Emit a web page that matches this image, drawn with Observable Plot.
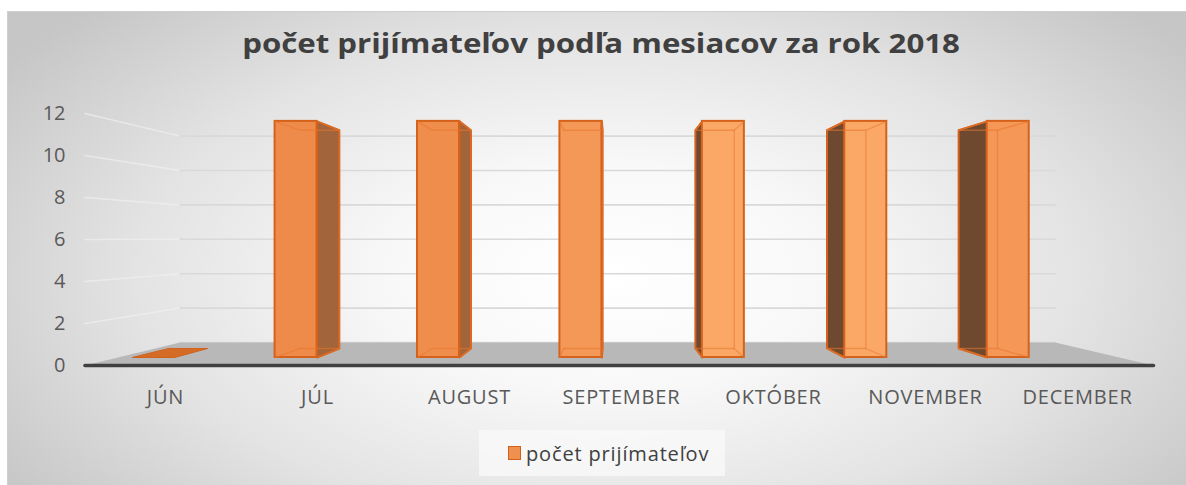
<!DOCTYPE html>
<html><head><meta charset="utf-8">
<script src="https://cdn.jsdelivr.net/npm/d3@7"></script>
<script src="https://cdn.jsdelivr.net/npm/@observablehq/plot@0.6"></script>
<style>
html,body{margin:0;padding:0;background:#fff;width:1186px;height:485px;overflow:hidden;}
#card{position:absolute;left:7px;top:11px;width:1179px;height:474px;box-sizing:border-box;
  border-top:1px solid #cfcfcf;border-left:1px solid #cfcfcf;
  background:radial-gradient(ellipse 62% 80% at 51% 56%, #ffffff 0%, #f8f8f8 30%, #e3e3e3 65%, #c6c6c6 100%);
  font-family:"Open Sans",sans-serif;}
#title{height:62px;line-height:62px;text-align:center;color:#404040;white-space:nowrap;}
#title span{display:inline-block;font-weight:700;font-size:26px;transform:scaleX(1.2);transform-origin:50% 50%;margin-left:8px;}
#chart svg{display:block;overflow:visible;}
#legend{margin-top:10px;margin-left:471px;width:246px;height:46px;box-sizing:border-box;background:rgba(250,250,250,0.75);
  display:flex;align-items:center;padding-left:29px;font-size:20px;letter-spacing:0.85px;color:#404040;}
#legend .sw{width:11px;height:12px;background:#f0904e;border:1.5px solid #d0601a;margin-right:5px;flex:none;}
</style></head>
<body>
<div id="card">
  <div id="title"><span id="titletext"></span></div>
  <div id="chart"></div>
  <div id="legend"><span class="sw"></span><span id="legtext"></span></div>
</div>
<script>
// ---- data ----
const months = ["JÚN","JÚL","AUGUST","SEPTEMBER","OKTÓBER","NOVEMBER","DECEMBER"];
const values = [0, 12, 12, 12, 12, 12, 12];
const yTicks = [0, 2, 4, 6, 8, 10, 12];
const seriesName = "počet prijímateľov";
const chartTitle = "počet prijímateľov podľa mesiacov za rok 2018";

document.getElementById("titletext").textContent = chartTitle;
document.getElementById("legtext").textContent = seriesName;

// ---- simple 3D perspective (in data units) ----
const U0 = 2.928, V0 = 6.048;           // vanishing point
const S_FRONT = 0.937, S_BACK = 0.866, S_WALL = 0.819; // depth scales
const BAR_SHIFT = -0.28, BAR_HALF = 0.1475;
const FLOOR = [-0.53, 6.5];
const P = (u, v, s) => ({x: U0 + (u - U0) * s, y: V0 + (v - V0) * s});
const poly = (id, pts) => pts.map(p => ({...p, id}));
const light = d3.interpolateRgb("#ee8a4a", "#fcab6a");

const bars = months.map((m, i) => {
  const c = i + BAR_SHIFT;
  return {m, i, c, v: values[i], l: c - BAR_HALF, r: c + BAR_HALF};
});

const backGrid = yTicks.flatMap(v => poly("b" + v, [P(FLOOR[0], v, S_WALL), P(FLOOR[1], v, S_WALL)]));
const leftGrid = yTicks.filter(v => v > 0).flatMap(v => poly("l" + v, [P(FLOOR[0], v, 1), P(FLOOR[0], v, S_WALL)]));
const floor = poly("floor", [P(FLOOR[0], 0, 1), P(FLOOR[1], 0, 1), P(FLOOR[1], 0, S_WALL), P(FLOOR[0], 0, S_WALL)]);
const floorEdge = poly("edge", [P(FLOOR[0], 0, 1), P(FLOOR[1], 0, 1)]);

const topFaces = bars.flatMap(b => poly(b.m, [P(b.l, b.v, S_FRONT), P(b.r, b.v, S_FRONT), P(b.r, b.v, S_BACK), P(b.l, b.v, S_BACK)]));
const rightSides = [], leftSides = [], hidden = [];
bars.filter(b => b.v > 0).forEach(b => {
  if (b.r < U0) rightSides.push(...poly(b.m, [P(b.r, 0, S_FRONT), P(b.r, b.v, S_FRONT), P(b.r, b.v, S_BACK), P(b.r, 0, S_BACK)]));
  else if (b.l > U0) leftSides.push(...poly(b.m, [P(b.l, 0, S_FRONT), P(b.l, b.v, S_FRONT), P(b.l, b.v, S_BACK), P(b.l, 0, S_BACK)]));
  hidden.push(...poly(b.m + "back", [P(b.l, 0, S_BACK), P(b.r, 0, S_BACK), P(b.r, b.v, S_BACK), P(b.l, b.v, S_BACK)]));
  for (const [u, v] of [[b.l, 0], [b.r, 0], [b.l, b.v], [b.r, b.v]])
    hidden.push(...poly(b.m + u + "_" + v, [P(u, v, S_FRONT), P(u, v, S_BACK)]));
});
const fronts = bars.filter(b => b.v > 0).map(b => {
  const a = P(b.l, 0, S_FRONT), c = P(b.r, b.v, S_FRONT);
  return {x1: a.x, x2: c.x, y1: a.y, y2: c.y, fill: light(Math.exp(-(((b.c - 4.2) / 1.6) ** 2)))};
});

const chart = Plot.plot({
  width: 1178, height: 346,
  marginLeft: 81, marginRight: 33, marginTop: 39, marginBottom: 55,
  style: {fontFamily: "'Open Sans', sans-serif", fontSize: "20px", color: "#595959", background: "transparent", overflow: "visible"},
  color: {type: "identity"},
  x: {type: "linear", domain: [-0.5, 6.5], ticks: d3.range(months.length), tickFormat: i => months[i], tickSize: 0, tickPadding: 24, label: null},
  y: {domain: [0, 12], ticks: yTicks, tickSize: 0, tickPadding: 24, label: null},
  marks: [
    Plot.line(leftGrid, {x: "x", y: "y", z: "id", stroke: "#f0f0f0", strokeWidth: 1.5, strokeOpacity: 0.7}),
    Plot.line(backGrid, {x: "x", y: "y", z: "id", stroke: "#d9d9d9", strokeWidth: 1.6}),
    Plot.line(floor, {x: "x", y: "y", z: "id", fill: "#b8b8b8", stroke: "none", curve: "linear-closed"}),
    Plot.line(floorEdge, {x: "x", y: "y", z: "id", stroke: "#404040", strokeWidth: 3.5}),
    Plot.line(topFaces, {x: "x", y: "y", z: "id", fill: "#d46b27", stroke: "#d0621c", strokeWidth: 1, curve: "linear-closed"}),
    Plot.line(rightSides, {x: "x", y: "y", z: "id", fill: "#a2643a", stroke: "#d2611b", strokeWidth: 2, strokeLinejoin: "round", curve: "linear-closed"}),
    Plot.line(leftSides, {x: "x", y: "y", z: "id", fill: "#6e4930", stroke: "#d2611b", strokeWidth: 2, strokeLinejoin: "round", curve: "linear-closed"}),
    Plot.rect(fronts, {x1: "x1", x2: "x2", y1: "y1", y2: "y2", fill: "fill", stroke: "#d4621b", strokeWidth: 2}),
    Plot.line(hidden, {x: "x", y: "y", z: "id", stroke: "#e8772d", strokeWidth: 1.3, strokeOpacity: 0.55})
  ]
});
d3.select(chart).selectAll('g[aria-label^="x-axis"] text').style("letter-spacing", "0.8px");
document.getElementById("chart").appendChild(chart);
</script>
</body></html>
